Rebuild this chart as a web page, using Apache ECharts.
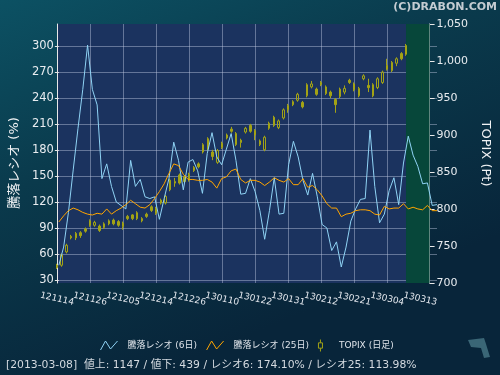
<!DOCTYPE html>
<html><head><meta charset="utf-8">
<script src="https://cdn.jsdelivr.net/npm/echarts@6/dist/echarts.min.js"></script>
<style>html,body{margin:0;padding:0;background:#0a3040}#c{width:500px;height:375px}</style>
</head><body><div id="c"></div>
<script>
// ---- data ----
const dates = ['121114','121115','121116','121119','121120','121121','121122','121126','121127','121128','121129','121130',
'121203','121204','121205','121206','121207','121210','121211','121212','121213','121214','121217','121218','121219','121220','121221','121225','121226','121227','121228',
'130104','130107','130108','130109','130110','130111','130115','130116','130117','130118','130121','130122','130123','130124','130125','130128','130129','130130','130131',
'130201','130204','130205','130206','130207','130208','130212','130213','130214','130215','130218','130219','130220','130221','130222','130225','130226','130227','130228',
'130301','130304','130305','130306','130307','130308','130311','130312','130313','130314','130315'];
const ratio6 = [47,68,108,157,205,250,301,250,232,147,164,138,120,116,112,168,138,146,126,124,
126,100,124,147,189,168,134,166,169,156,130,176,200,172,163,181,199,168,129,130,
147,132,110,77,110,148,106,107,163,190,172,145,128,153,126,94,90,64,74,45,
68,98,112,123,124,203,138,96,106,133,148,117,165,196,174.1,161,141,142,116,117];
const ratio25 = [97,104,110,113,111,108,106,105,107,106,112,106,110,113,117,122,118,114,113,117,
124,132,141,153,164,162,152,146,146,145,145,146,143,136,147,149,156,158,146,142,
145,145,143,139,143,148,145,143,147,140,140,147,137,139,134,127,118,113,113,103,
106,107,110,111,111,110,106,105,115,112,113,113,118,112,113.98,112,111,116,110,110];
// TOPIX daily: [open, close, low, high]
const topix = [[724,721,719,726],[724,738,722,740],[742,751,740,753],[763,761,759,765],[767,761,758,769],
[768,764,761,770],[773,770,768,775],[784,778,776,786],[778,782,776,784],[777,771,769,779],
[775,780,773,782],[784,780,778,786],[785,780,778,787],[783,778,776,785],[776,781,772,783],
[790,787,785,792],[792,787,785,793],[795,787,785,797],[787,784,782,789],[793,790,788,795],
[803,798,796,805],[794,801,792,803],[812,808,806,814],[808,817,806,819],[826,839,824,841],
[837,835,830,842],[846,835,833,848],[844,837,835,846],[839,847,837,849],[856,852,850,858],
[861,857,855,863],[877,887,875,889],[895,881,879,897],[877,871,866,880],[863,879,861,881],
[883,889,881,891],[900,896,894,902],[908,905,903,911],[902,887,885,904],[893,890,883,895],
[904,909,902,911],[913,905,903,915],[906,900,893,908],[892,887,885,894],[880,897,878,899],
[909,916,907,918],[924,913,911,926],[910,919,908,921],[923,934,921,936],[934,940,930,942],
[945,941,939,947],[947,955,945,957],[944,938,936,946],[953,968,951,970],[965,969,963,973],
[962,955,953,964],[971,968,966,973],[965,956,954,967],[958,953,950,960],[948,941,930,950],
[952,962,950,964],[958,963,955,967],[974,971,969,976],[969,961,959,971],[953,963,951,965],
[976,980,974,982],[967,964,958,976],[968,953,951,970],[964,976,962,978],[971,985,969,987],
[994,989,987,1003],[998,987,985,1000],[997,1003,993,1005],[1010,1003,1001,1012],[1009,1021,1007,1023]];
const currentDate = '130308';
const labelEvery = 7;
const ratioTicks = {min: 30, max: 300, step: 30};
const topixTicks = {min: 700, max: 1050, step: 50};
const statusText = '[2013-03-08]  値上: 1147 / 値下: 439 / レシオ6: 174.10% / レシオ25: 113.98%';

// ---- chart ----
const FONT = 'DejaVu Sans, Noto Sans CJK JP, sans-serif';
const chart = echarts.init(document.getElementById('c'), null, {renderer: 'canvas'});
const gridColor = 'rgba(190,200,225,0.45)';
const candleColor = '#a3a315';
const plotLeft = 57, plotRight = 63;
chart.setOption({
  animation: false,
  graphic: [{
    type: 'rect', z: -10, silent: true,
    shape: {x: 0, y: 0, width: 500, height: 375},
    style: {fill: new echarts.graphic.LinearGradient(0, 0, 0.3, 1, [
      {offset: 0, color: '#0c5163'}, {offset: 0.45, color: '#0a3a4c'}, {offset: 1, color: '#08253a'}])}
  }, {
    type: 'polygon', z: -9, silent: true,
    shape: {points: [[468, 340], [484, 338], [486, 344], [490, 357], [484, 358], [481, 348], [471, 347]]},
    style: {fill: '#3a6676'}
  }],
  title: [
    {text: '(C)DRABON.COM', right: 3, top: 2, padding: 0, textStyle: {color: '#c4ccd2', fontSize: 11, fontWeight: 'bold', fontFamily: FONT}},
    {text: statusText, left: 6, top: 360, padding: 0, textStyle: {color: '#d4dae0', fontSize: 10.8, fontWeight: 'normal', fontFamily: FONT}}
  ],
  legend: {
    left: 100, top: 339, padding: 0, itemWidth: 17, itemHeight: 12, itemGap: 9,
    textStyle: {color: '#dfe4ea', fontSize: 9, fontFamily: FONT, padding: [0, 0, 0, 5]},
    data: [
      {name: '騰落レシオ (6日)', icon: 'path://M0,10L5,1L10,9L17,1', itemStyle: {color: 'transparent', borderColor: '#8fd3f5', borderWidth: 1}},
      {name: '騰落レシオ (25日)', icon: 'path://M0,10L5,1L10,9L17,1', itemStyle: {color: 'transparent', borderColor: '#ffa500', borderWidth: 1}},
      {name: 'TOPIX (日足)', icon: 'path://M5,0L5,5M2,5L8,5L8,13L2,13ZM5,13L5,18', itemStyle: {color: 'transparent', borderColor: candleColor, borderWidth: 1}}
    ]
  },
  grid: [
    {left: plotLeft, right: plotRight, top: 46, bottom: 95, show: false},
    {left: plotLeft, right: plotRight, top: 24, bottom: 92, show: true, backgroundColor: '#1b335f', borderWidth: 0, z: -2}
  ],
  xAxis: [
    {type: 'category', gridIndex: 0, data: dates, boundaryGap: false, show: false},
    {type: 'category', gridIndex: 1, data: dates, boundaryGap: false,
      axisLine: {show: false}, axisTick: {show: false},
      axisLabel: {interval: 0, rotate: -13, align: 'center', verticalAlign: 'middle', margin: 16,
        formatter: (v, i) => (i % labelEvery === 0 ? v : ''),
        color: '#e4e8ee', fontSize: 9, fontFamily: FONT},
      splitLine: {show: true, interval: labelEvery - 1, lineStyle: {color: gridColor, width: 1}}}
  ],
  yAxis: [
    {type: 'value', gridIndex: 0, position: 'left', min: ratioTicks.min, max: ratioTicks.max, interval: ratioTicks.step,
      axisLine: {show: false}, axisTick: {show: true, length: 4, lineStyle: {color: '#e8e8e8'}},
      axisLabel: {color: '#e8ecf0', fontSize: 11.5, margin: 5, fontFamily: FONT},
      splitLine: {show: true, lineStyle: {color: gridColor, width: 1}},
      name: '騰落レシオ (%)', nameLocation: 'middle', nameGap: 37, nameRotate: 90,
      nameTextStyle: {color: '#f0f2f4', fontSize: 13, fontFamily: FONT}},
    {type: 'value', gridIndex: 1, position: 'right', min: topixTicks.min, max: topixTicks.max, interval: topixTicks.step,
      axisLine: {show: true, lineStyle: {color: '#e8e8e8', width: 1}},
      axisTick: {show: true, length: 5, lineStyle: {color: '#e8e8e8'}},
      axisLabel: {color: '#e8ecf0', fontSize: 11, margin: 7, fontFamily: FONT,
        formatter: v => v.toLocaleString('en-US')},
      splitLine: {show: false},
      name: 'TOPIX (Pt)', nameLocation: 'middle', nameGap: 48, nameRotate: -90,
      nameTextStyle: {color: '#f0f2f4', fontSize: 13, fontFamily: FONT}},
    {type: 'value', gridIndex: 1, position: 'left', min: 0, max: 1,
      axisLine: {show: true, lineStyle: {color: '#e8e8e8', width: 1}},
      axisTick: {show: false}, axisLabel: {show: false}, splitLine: {show: false}}
  ],
  series: [
    {type: 'line', name: 'highlight', xAxisIndex: 1, yAxisIndex: 1, data: [], z: -1, silent: true,
      markArea: {silent: true, itemStyle: {color: '#07473a'},
        data: [[{xAxis: currentDate}, {xAxis: dates[dates.length - 1]}]]}},
    {type: 'candlestick', name: 'TOPIX (日足)', xAxisIndex: 1, yAxisIndex: 1, data: topix, barWidth: 2, z: 2,
      itemStyle: {color: 'transparent', color0: candleColor, borderColor: candleColor, borderColor0: candleColor, borderWidth: 1}},
    {type: 'line', name: '騰落レシオ (6日)', xAxisIndex: 0, yAxisIndex: 0, data: ratio6, symbol: 'none', clip: false, z: 3,
      lineStyle: {color: '#8fd3f5', width: 1}, itemStyle: {color: '#8fd3f5'}},
    {type: 'line', name: '騰落レシオ (25日)', xAxisIndex: 0, yAxisIndex: 0, data: ratio25, symbol: 'none', clip: false, z: 4,
      lineStyle: {color: '#ffa500', width: 1}, itemStyle: {color: '#ffa500'}}
  ]
});
</script></body></html>
